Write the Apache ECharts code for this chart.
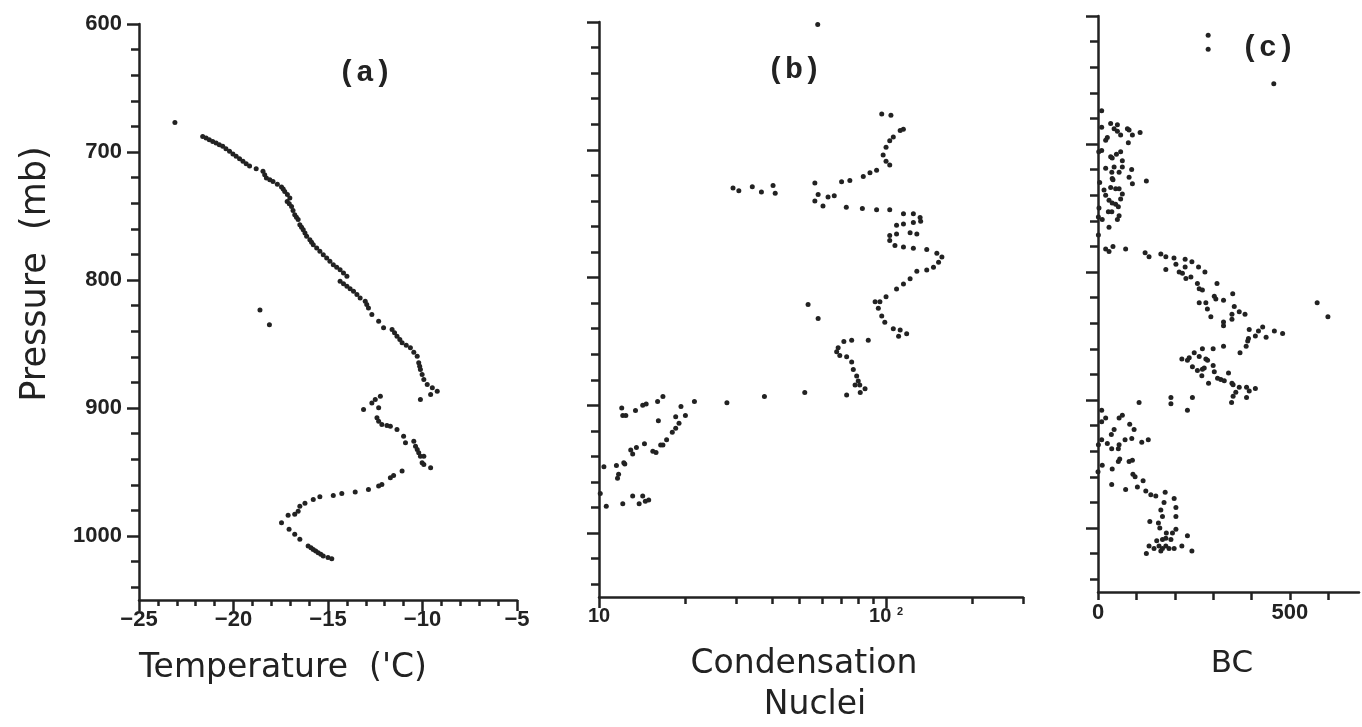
<!DOCTYPE html>
<html>
<head>
<meta charset="utf-8">
<script src="https://cdn.jsdelivr.net/npm/echarts@6/dist/echarts.min.js"></script>
<style>
  html, body { margin: 0; padding: 0; background: #ffffff; }
  #chart { width: 1362px; height: 727px; }
</style>
</head>
<body>
<div id="chart"></div>
<script>
// Vertical profiles: [value, pressure (mb)]
const temperatureProfile = [
  [-23.1,677],
  [-21.63,687.8],[-21.45,689],[-21.28,690.4],[-21.1,691.7],[-20.92,693],[-20.75,694.3],[-20.57,695.6],
  [-20.4,697.5],[-20.21,699.5],[-20.03,701.5],[-19.86,703.4],[-19.68,705.3],[-19.5,707.3],[-19.33,709.2],
  [-19.15,711],[-18.8,713],[-18.44,715.1],[-18.35,717.7],[-18.26,720.3],[-18.08,721.6],[-17.91,723],
  [-17.68,725.2],[-17.46,727.3],[-17.37,729],[-17.29,730.8],[-17.15,733.3],[-17.02,735.9],[-17.16,738.6],
  [-17.05,740.5],[-16.93,742.5],[-16.85,745.7],[-16.76,749],[-16.67,751],[-16.58,752.8],[-16.49,756.8],
  [-16.4,758.7],[-16.31,760.7],[-16.22,763.3],[-16.13,765.9],[-15.96,768.5],[-15.87,770.5],[-15.78,772.4],
  [-15.6,775],[-15.43,777.6],[-15.25,780.2],[-15.07,782.8],[-14.9,785.4],[-14.72,788],[-14.54,790],
  [-14.36,791.9],[-14.18,794.5],[-14.0,797.1],[-14.36,801],[-14.18,803],[-14.0,804.9],[-13.83,806.8],
  [-13.65,808.8],[-13.47,811.4],[-13.3,814],[-13.03,816.6],[-12.95,819.2],[-12.86,821.8],
  [-12.68,827],[-12.32,832.2],[-12.06,837.4],[-11.61,838.7],[-11.48,841.3],[-11.35,843.9],[-11.2,846.5],
  [-11.08,849.1],[-10.86,851],[-10.64,853],[-10.46,856.5],[-10.28,859.6],[-10.2,864.7],[-10.15,867.4],
  [-10.11,870],[-10.02,873.9],[-9.93,877.8],[-9.75,881.7],[-9.48,884.2],[-9.22,886.9],[-9.57,889.5],
  [-10.11,893.4],
  [-18.6,823.4],[-18.1,835],
  [-13.12,901.2],[-12.68,896],[-12.5,893.4],[-12.23,890.8],[-12.32,899.9],[-12.41,907.6],[-12.32,910.3],
  [-12.15,912.9],[-11.88,913.7],[-11.7,914.2],[-11.35,916.8],[-11.0,922],[-10.9,927.2],[-10.46,925.9],
  [-10.37,929.8],[-10.28,932.4],[-10.2,935],[-10.11,937.6],[-9.93,937.6],[-10.02,942.8],[-9.93,944.1],
  [-9.57,946.7],[-11.08,949.3],[-11.53,952.7],[-11.7,954.5],[-12.15,959.7],[-12.32,961],[-12.86,963.6],
  [-13.56,965.7],[-14.27,966.7],[-14.72,968.3],[-15.43,969.3],[-15.78,971.4],[-16.22,974.5],
  [-16.49,976.7],[-16.58,980.6],[-16.76,983.1],[-17.11,983.7],[-17.46,989.6],[-17.06,994.8],
  [-16.76,998.7],[-16.49,1002.6],[-16.05,1007.9],[-15.9,1009.2],[-15.78,1010.5],[-15.65,1011.8],
  [-15.52,1013],[-15.38,1014.3],[-15.25,1015.7],[-15.0,1016.7],[-14.8,1017.7]
];

const nucleiProfile = [
  [96.6,672],[104,673],[114.9,684],[112,685],[106,690],[103,693],[100,698],[97.7,704],[100,709],[103,712],
  [92.7,716],[87.9,718],[83.3,721],[74.8,724],[70,725],[56.5,726],
  [29.3,730],[30.7,732],[34.2,729],[36.8,733],[40.4,728],[41.1,734],
  [58,735],[56.5,740],[60.3,744],[62.8,737],[66,736],
  [72.7,745],[82.7,746],[92.7,747],[103,747],[115,750],[124.5,750],[131.4,753],[132,756],[124.5,757],
  [108.8,759],[115,758],[108.8,766],[121.3,765],[128,766],[103,767],[103,771],[107.4,775],[115,776],
  [124.5,777],[138.6,778],[150.3,781],[156.5,784],[152.4,788],[146.3,792],[138.6,794],[128,795],
  [121.3,801],[115,805],[108.8,809],[100,815],[95.2,819],[91.6,819],
  [94,824],[96.6,830],[99,835],[106,840],[112,841],[118,844],[110.6,846],
  [53.5,821],[58,832],
  [86.7,849],[75.9,849],[71.3,850],[68.1,855],[67.3,858],[69,861],[72.9,862],[75.9,866],[76.9,872],
  [79,877],[80,881],[78,884],[81,884],[84.5,887],[81.3,890],[72.9,892],[52.1,890],[37.7,893],
  [27.9,898],[21.5,897],[16.7,893],[16,897],[14.6,899],[14.2,900],[13.4,904],[12,902],[12.1,908],
  [12.4,908],[16.1,912],[19.3,901],[18.5,909],[20,908],[19,914],[18.5,918],[18,921],[17.2,927],
  [16.7,931],[16.4,931],[15.8,937],[15.4,936],[14.4,930],[13.5,933],[12.9,935],[13.1,938],[12.2,945],
  [12.3,946],[11.5,947],[10.4,948],[11.7,954],[11.6,957],[10.1,969],[10.6,979],[12.1,977],[13.1,971],
  [13.8,977],[14.2,971],[14.5,975],[14.9,974],
  [57.8,602]
];

const bcProfile = [
  [9.6,674],[9.6,687],[33,684],[42,688],[50.5,685],[50.5,690],[59,693],[76.6,688],[81,689],[89.6,693],
  [109.7,691],[24.3,695],[20,697],[79,699],[2,706],[9.6,705],[33,710],[37,711],[48,708],[59,706],
  [63.4,713],[20,719],[42,718],[36,722],[55,722],[63.4,718],[87.7,720],[81,726],[89.6,731],[126,729],
  [4.4,730],[37,727],[39,728],[33,734],[46,735],[55,735],[15.7,736],[20,740],[63.4,739],[59,743],
  [28.7,744],[37,746],[46,747],[53,749],[2.6,750],[27,753],[36,753],[55,756],[1,757],[11,759],
  [50.5,759],[28.7,765],[1,771],
  [20,782],[28.7,784],[39,780],[72,782],[122.7,785],[133,788],[163.7,786],[176.7,788],[198,789],
  [227,790],[203,794],[176.7,798],[211.5,800],[227,796],[244.6,792],[262,796],[278.6,800],[220,801],
  [229,805],[242,804],[259,809],[263.7,813],[272,814],[310,809],[303,819],[307,821],[327,822],
  [351,817],[355,827],[368,831],[383,833],[263.7,824],[281,824],[285,829],
  [571,824],[599,835],[458,653],
  [294,835],[327,839],[327,842],[349,833],[349,837],[394,845],[392,852],[390,854],[410,850],[418,846],
  [429,843],[438,851],[459.5,846],[481,848],[386,858],[370,863],[327,858],[300,860],[272,860],
  [250.7,863],[237.6,867],[218.5,868],[233,869],[263.7,866],[281,868],[285.5,869],[246,874],[259,877],
  [272,876],[276.8,875],[270.5,881],[288,887],[300,873],[303,878],[311.5,883],[320,884],[329,885],
  [340,879],[349,887],[352,888],[368,890],[359,894],[352,897],[348,902],[387,890],[387,898],[394,893],
  [410,891],[190,898],[190,903],[246,898],[233,908],[107,902],
  [9.6,908],[20,914],[9.6,917],[55,914],[63.4,912],[42,923],[82.6,919],[94,923],[34.8,927],[9.6,931],
  [24.3,934],[1,935],[35.7,938],[53,938],[55,935],[70.5,931],[88,930],[114,933],[131,931],[11,951],
  [37,954],[53,948],[56.6,946],[81,948],[89.6,947],[35.7,966],[0,956],[91,958],[96.6,960],[117.5,963],
  [72,970],[102.6,968],[124.5,971],[137.6,974],[150.6,975],[175,972],[198.4,977],[203,984],[172,980],
  [163.7,986],[203,991],[168,991],[135,995],[157.4,996],[161,1000],[203,1001],[178,1004],[194,1004],
  [233,1006],[153,1010],[168,1009],[176.7,1008],[190,1009],[133,1014],[146,1016],[159,1014],[168,1016],
  [176.7,1014],[185,1016],[198.4,1016],[218.5,1014],[126,1020],[244.6,1018],[163.7,1018],
  [287,615],[287,626]
];

// Axis tick values and labels
const pressureTicks = [600, 700, 800, 900, 1000];
const pressureMinorTicks = [600,620,640,660,680,700,720,740,760,780,800,820,840,860,880,900,920,940,960,980,1000,1020,1040];
const temperatureTicks = [-25, -20, -15, -10, -5];
const temperatureMinorTicks = [-25,-24,-23,-22,-21,-20,-19,-18,-17,-16,-15,-14,-13,-12,-11,-10,-9,-8,-7,-6,-5];
const nucleiTicks = [10, 100];
const nucleiTickLabels = ['10', '10 {sup|2}'];
const nucleiMinorTicks = [20,30,40,50,60,70,80,90,200,300];
const bcTicks = [0, 500];
const bcMinorTicks = [0,100,200,300,400,500,600];
const panelTitles = ['(a)', '(b)', '(c)'];

const INK = '#222222';
const numFont = { fontFamily: 'Liberation Sans', fontWeight: 'bold', fontSize: 22, color: INK };

const grids = [
  { left: 139, top: 24, width: 378, height: 576 },
  { left: 599, top: 22, width: 424, height: 575 },
  { left: 1098, top: 16, width: 261, height: 576 }
];

function yAxesFor(gridIndex, withLabels) {
  return [
    {
      type: 'value', gridIndex, inverse: true, min: 600, max: 1050, position: 'left',
      axisLine: { show: true, onZero: false, lineStyle: { color: INK, width: 2.5 } },
      axisTick: { show: true, length: 12, customValues: pressureTicks, lineStyle: { color: INK, width: 2.5 } },
      axisLabel: {
        show: withLabels, customValues: pressureTicks, margin: 17, formatter: v => String(v), ...numFont
      },
      splitLine: { show: false }
    },
    {
      type: 'value', gridIndex, inverse: true, min: 600, max: 1050, position: 'left',
      axisLine: { show: false, onZero: false },
      axisTick: { show: true, length: 8, customValues: pressureMinorTicks, lineStyle: { color: INK, width: 2.5 } },
      axisLabel: { show: false },
      splitLine: { show: false }
    }
  ];
}

const xAxes = [
  {
    type: 'value', gridIndex: 0, min: -25, max: -5, position: 'bottom',
    axisLine: { onZero: false, lineStyle: { color: INK, width: 2.5 } },
    axisTick: { length: 11, customValues: temperatureTicks, lineStyle: { color: INK, width: 2.5 } },
    axisLabel: { customValues: temperatureTicks, margin: 9, formatter: v => String(v).replace('-', '\u2212'), ...numFont },
    splitLine: { show: false }
  },
  {
    type: 'value', gridIndex: 0, min: -25, max: -5, position: 'bottom',
    axisLine: { show: false, onZero: false },
    axisTick: { length: 6, customValues: temperatureMinorTicks, lineStyle: { color: INK, width: 2.5 } },
    axisLabel: { show: false }, splitLine: { show: false }
  },
  {
    type: 'log', logBase: 10, gridIndex: 1, min: 10, max: 300, position: 'bottom',
    axisLine: { onZero: false, lineStyle: { color: INK, width: 2.5 } },
    axisTick: { length: 11, customValues: nucleiTicks, lineStyle: { color: INK, width: 2.5 } },
    axisLabel: {
      customValues: nucleiTicks, margin: 9,
      formatter: v => nucleiTickLabels[nucleiTicks.indexOf(v)] ?? '',
      ...numFont, fontSize: 20,
      rich: { sup: { fontFamily: 'Liberation Sans', fontWeight: 'bold', fontSize: 11, color: INK, verticalAlign: 'top', padding: [0, 0, 10, 0] } }
    },
    splitLine: { show: false }
  },
  {
    type: 'log', logBase: 10, gridIndex: 1, min: 10, max: 300, position: 'bottom',
    axisLine: { show: false, onZero: false },
    axisTick: { length: 7, customValues: nucleiMinorTicks, lineStyle: { color: INK, width: 2.5 } },
    axisLabel: { show: false }, splitLine: { show: false }
  },
  {
    type: 'value', gridIndex: 2, min: 0, max: 680, position: 'bottom',
    axisLine: { onZero: false, lineStyle: { color: INK, width: 2.5 } },
    axisTick: { length: 8, customValues: bcMinorTicks, lineStyle: { color: INK, width: 2.5 } },
    axisLabel: { customValues: bcTicks, margin: 10, ...numFont },
    splitLine: { show: false }
  }
];

const yAxes = [...yAxesFor(0, true), ...yAxesFor(1, false), ...yAxesFor(2, false)];

function dots(data, xAxisIndex, yAxisIndex) {
  return {
    type: 'scatter', data, xAxisIndex, yAxisIndex,
    symbol: 'circle', symbolSize: 5,
    itemStyle: { color: INK, opacity: 1 },
    silent: true, animation: false
  };
}

const labelFont = { fontFamily: 'DejaVu Sans', fontSize: 33, fill: INK };
const titleFont = { fontFamily: 'Liberation Mono', fontWeight: 'bold', fontSize: 30, fill: INK };

const option = {
  backgroundColor: '#ffffff',
  animation: false,
  grid: grids,
  xAxis: xAxes,
  yAxis: yAxes,
  series: [
    dots(temperatureProfile, 0, 0),
    dots(nucleiProfile, 2, 2),
    dots(bcProfile, 4, 4)
  ],
  graphic: [
    { type: 'text', x: 365, y: 73, style: { text: panelTitles[0], align: 'center', verticalAlign: 'middle', ...titleFont } },
    { type: 'text', x: 794, y: 70, style: { text: panelTitles[1], align: 'center', verticalAlign: 'middle', ...titleFont } },
    { type: 'text', x: 1268, y: 48, style: { text: panelTitles[2], align: 'center', verticalAlign: 'middle', ...titleFont } },
    { type: 'text', x: 283, y: 668, style: { text: "Temperature  ('C)", align: 'center', verticalAlign: 'middle', ...labelFont } },
    { type: 'text', x: 804, y: 664, style: { text: 'Condensation', align: 'center', verticalAlign: 'middle', ...labelFont } },
    { type: 'text', x: 815, y: 705, style: { text: 'Nuclei', align: 'center', verticalAlign: 'middle', ...labelFont } },
    { type: 'text', x: 1232, y: 664, style: { text: 'BC', align: 'center', verticalAlign: 'middle', ...labelFont, fontSize: 31 } },
    { type: 'text', x: 36, y: 274, rotation: Math.PI / 2, style: { text: 'Pressure  (mb)', align: 'center', verticalAlign: 'middle', ...labelFont, fontSize: 35 } }
  ]
};

const chart = echarts.init(document.getElementById('chart'), null, { renderer: 'canvas' });
chart.setOption(option);
</script>
</body>
</html>
